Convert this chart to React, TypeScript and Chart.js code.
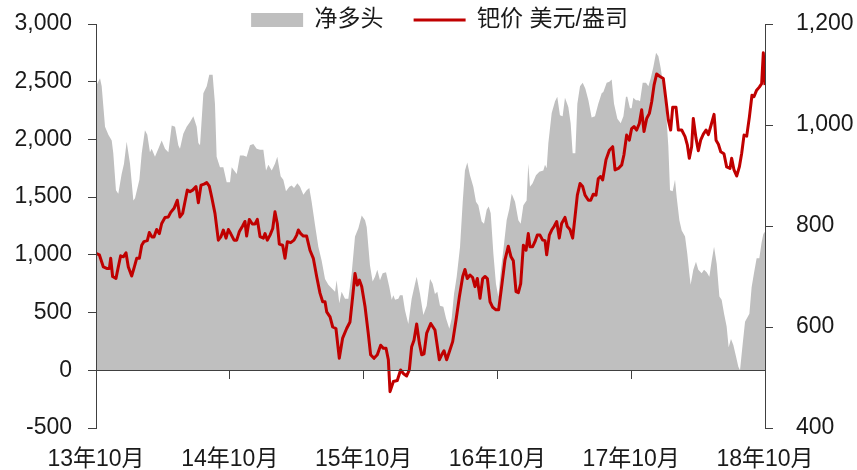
import React, { useEffect, useRef } from 'react';
import { Chart, registerables } from 'chart.js';

Chart.register(...registerables);

// ---- data (x = months since 2013-10) ----
const xTickLabels = ['13年10月', '14年10月', '15年10月', '16年10月', '17年10月', '18年10月'];
const legendLabels = ['净多头', '钯价 美元/盎司'];

const netLongMonths = [
  0.0, 0.36, 0.51, 0.81, 1.11, 1.41, 1.55, 1.79, 2.0, 2.3, 2.51, 2.75, 3.05, 3.35, 3.5, 3.89, 4.1, 4.39, 4.6, 4.84,
  4.99, 5.29, 5.59, 5.89, 6.19, 6.49, 6.79, 7.09, 7.38, 7.53, 7.83, 8.13, 8.43, 8.73, 9.03, 9.18, 9.33, 9.63, 9.93,
  10.16, 10.46, 10.67, 10.82, 11.12, 11.42, 11.72, 12.02, 12.17, 12.62, 12.91, 13.21, 13.51, 13.81, 14.11, 14.41,
  14.71, 15.01, 15.25, 15.46, 15.76, 16.05, 16.26, 16.56, 16.8, 17.04, 17.34, 17.55, 17.76, 18.06, 18.3, 18.6, 18.89,
  19.13, 19.34, 19.64, 19.94, 20.24, 20.54, 20.84, 21.14, 21.44, 21.58, 21.82, 22.03, 22.33, 22.63, 22.93, 23.23,
  23.53, 23.83, 24.13, 24.28, 24.57, 24.81, 25.02, 25.23, 25.47, 25.71, 26.01, 26.31, 26.52, 26.67, 26.82, 27.11,
  27.26, 27.5, 27.71, 28.01, 28.31, 28.61, 28.76, 29.06, 29.36, 29.66, 29.96, 30.19, 30.4, 30.61, 30.85, 31.15,
  31.39, 31.69, 31.9, 32.11, 32.35, 32.65, 32.89, 33.09, 33.3, 33.54, 33.84, 34.08, 34.29, 34.59, 34.8, 35.04, 35.22,
  35.4, 35.64, 35.87, 36.08, 36.29, 36.53, 36.83, 37.07, 37.28, 37.58, 37.88, 38.09, 38.33, 38.62, 38.77, 38.92,
  39.16, 39.46, 39.76, 40.12, 40.27, 40.42, 40.57, 40.87, 41.17, 41.37, 41.61, 41.85, 42.06, 42.36, 42.57, 42.75,
  42.99, 43.17, 43.41, 43.65, 43.89, 44.16, 44.45, 44.75, 45.05, 45.35, 45.5, 45.8, 46.04, 46.25, 46.46, 46.76,
  47.06, 47.3, 47.53, 47.65, 47.89, 48.04, 48.19, 48.43, 48.64, 48.79, 49.03, 49.33, 49.54, 49.75, 49.99, 50.23,
  50.44, 50.64, 50.88, 51.12, 51.33, 51.48, 51.72, 51.93, 52.08, 52.32, 52.53, 52.83, 53.03, 53.21, 53.33, 53.57,
  53.81, 54.02, 54.32, 54.53, 54.77, 55.01, 55.22, 55.43, 55.67, 55.91, 56.11, 56.33, 56.56, 56.74, 56.95, 57.16,
  57.4, 57.61, 57.76, 58.0, 58.21, 58.6, 58.8, 59.01, 59.25, 59.49, 59.7, 59.85, 60.0,
];
const netLongValues = [
  2460, 2530, 2460, 2110, 2040, 1990, 1880, 1560, 1530, 1700, 1790, 1980, 1790, 1470, 1490, 1650, 1880, 2080, 2040, 1890,
  1920, 1850, 1920, 1990, 1920, 1890, 2120, 2110, 1950, 1920, 2050, 2110, 2150, 2200, 2110, 1970, 1950, 2400, 2460,
  2560, 2560, 2310, 1850, 1760, 1760, 1630, 1630, 1760, 1700, 1860, 1860, 1850, 1950, 1960, 1920,
  1910, 1910, 1730, 1780, 1730, 1790, 1850, 1680, 1650, 1550, 1590, 1600, 1580, 1620, 1590, 1520, 1560,
  1580, 1460, 1260, 1070, 950, 790, 740, 710, 680, 780, 580, 680, 620, 620, 840, 1160,
  1230, 1340, 1300, 1240, 910, 770, 810, 870, 780, 840, 850, 720, 610, 650, 610, 620,
  650, 650, 520, 400, 620, 750, 810, 660, 480, 560, 790, 750, 660, 680, 560, 550,
  450, 360, 450, 660, 810, 1070, 1460, 1730, 1800, 1690, 1590, 1460, 1430, 1290, 1270, 1390, 1420,
  1360, 1010, 750, 640, 850, 1040, 1300, 1400, 1530, 1460, 1300, 1270, 1430, 1470, 1790, 1590,
  1620, 1690, 1720, 1730, 1780, 1750, 1970, 2230, 2330, 2370, 2210, 2200, 2360, 2280, 2140, 1880,
  1880, 2310, 2460, 2490, 2440, 2340, 2190, 2200, 2310, 2400, 2410, 2490, 2500, 2520, 2310, 2180,
  2140, 2200, 2370, 2370, 2270, 2270, 2360, 2340, 2340, 2330, 2490, 2490, 2460, 2530, 2630, 2750,
  2720, 2620, 2470, 2250, 1940, 1560, 1550, 1650, 1500, 1300, 1210, 1160, 1010, 840, 740, 870,
  940, 870, 840, 870, 850, 810, 950, 1070, 920, 640, 610, 490, 380, 200, 270, 220,
  120, 30, 0, 230, 420, 490, 720, 840, 970, 970, 1110, 1180, 1200,
];

const priceMonths = [
  0.0, 0.3, 0.66, 0.96, 1.2, 1.32, 1.49, 1.79, 2.0, 2.21, 2.45, 2.69, 2.9, 3.2, 3.44, 3.65, 3.89, 4.1, 4.3, 4.6,
  4.78, 5.02, 5.2, 5.44, 5.68, 5.89, 6.19, 6.49, 6.7, 7.0, 7.29, 7.53, 7.77, 7.98, 8.19, 8.43, 8.67, 8.97, 9.18,
  9.42, 9.69, 9.93, 10.16, 10.37, 10.67, 10.97, 11.21, 11.42, 11.66, 11.87, 12.08, 12.38, 12.62, 12.86, 13.15,
  13.36, 13.51, 13.75, 14.02, 14.26, 14.47, 14.71, 15.01, 15.16, 15.37, 15.61, 15.85, 16.05, 16.26, 16.44, 16.74,
  16.95, 17.16, 17.46, 17.76, 18.0, 18.15, 18.36, 18.6, 18.89, 19.19, 19.49, 19.79, 20.09, 20.33, 20.54, 20.69,
  20.99, 21.23, 21.52, 21.82, 22.12, 22.48, 22.78, 23.02, 23.23, 23.44, 23.62, 23.83, 24.13, 24.42, 24.63, 24.93,
  25.23, 25.53, 25.77, 26.01, 26.22, 26.37, 26.67, 27.02, 27.32, 27.56, 27.86, 28.1, 28.31, 28.52, 28.76, 29.0,
  29.21, 29.42, 29.66, 30.02, 30.4, 30.79, 31.0, 31.21, 31.45, 31.69, 31.99, 32.29, 32.59, 32.89, 33.09, 33.3,
  33.54, 33.78, 33.99, 34.2, 34.44, 34.68, 34.89, 35.1, 35.34, 35.58, 35.87, 36.11, 36.38, 36.68, 36.98, 37.22,
  37.43, 37.67, 37.88, 38.09, 38.33, 38.57, 38.77, 38.92, 39.16, 39.37, 39.58, 39.82, 40.06, 40.27, 40.42, 40.66,
  40.87, 41.08, 41.32, 41.55, 41.76, 42.06, 42.27, 42.51, 42.75, 42.96, 43.17, 43.41, 43.65, 43.86, 44.16, 44.37,
  44.6, 44.84, 45.05, 45.26, 45.44, 45.74, 46.04, 46.34, 46.55, 46.85, 47.15, 47.35, 47.59, 47.83, 48.04, 48.25,
  48.49, 48.73, 48.94, 49.15, 49.39, 49.63, 49.84, 50.05, 50.28, 50.58, 50.88, 51.12, 51.33, 51.54, 51.72, 52.02,
  52.23, 52.53, 52.83, 53.04, 53.21, 53.42, 53.57, 53.81, 54.02, 54.23, 54.47, 54.71, 54.92, 55.13, 55.43, 55.61,
  55.82, 56.03, 56.32, 56.56, 56.86, 57.01, 57.22, 57.46, 57.7, 57.91, 58.12, 58.36, 58.6, 58.83, 59.01, 59.25,
  59.49, 59.7, 59.85, 60.0,
];
const priceValues = [
  746, 743, 719, 716, 716, 736, 700, 696, 719, 741, 739, 747, 719, 701, 719, 736, 736, 762, 769, 771,
  787, 778, 778, 793, 785, 805, 817, 818, 827, 835, 851, 818, 825, 848, 871, 868, 871, 878, 846,
  881, 883, 886, 879, 858, 825, 772, 779, 792, 776, 793, 785, 772, 772, 789, 800,
  809, 780, 813, 804, 804, 813, 779, 776, 785, 772, 782, 795, 828, 805, 764, 762,
  736, 769, 767, 772, 782, 792, 785, 780, 780, 752, 736, 700, 667, 650, 650, 630,
  620, 600, 597, 538, 578, 597, 610, 660, 706, 683, 693, 680, 640, 587, 545, 538,
  545, 564, 558, 558, 535, 472, 492, 494, 515, 508, 503, 515, 561, 574, 606, 568,
  545, 547, 588, 607, 594, 535, 545, 553, 535, 551, 571, 614, 660, 700, 714, 696,
  703, 698, 680, 696, 657, 696, 700, 696, 650, 639, 634, 634, 680, 733, 760, 739,
  731, 670, 668, 686, 762, 752, 785, 759, 759, 769, 782, 782, 772, 771, 743, 782,
  792, 799, 809, 776, 805, 817, 799, 793, 776, 818, 861, 884, 878, 861, 851, 851,
  863, 861, 894, 898, 891, 931, 950, 957, 911, 914, 921, 941, 980, 970, 993, 997,
  990, 1003, 1030, 987, 1013, 1023, 1046, 1079, 1101, 1096, 1092, 1049, 1010, 990, 1035, 1035,
  990, 990, 977, 960, 934, 957, 1013, 974, 949, 970, 982, 990, 981, 997, 1021, 970,
  962, 947, 943, 917, 914, 934, 911, 899, 917, 944, 980, 978, 1016, 1059, 1056, 1069,
  1075, 1082, 1143, 1079,
];

// ---- styling ----
const FONT = '"Liberation Sans", "Noto Sans CJK SC", sans-serif';
const TEXT = '#1a1a1a';
const AXIS = '#404040';
const GRAY = '#BFBFBF';
const RED = '#C00000';

const legendFit = {
  id: 'legendFit',
  beforeInit(chart: any) {
    const lg = chart.legend;
    if (!lg) return;
    const orig = lg.fit;
    lg.fit = function () {
      orig.call(this);
      this.height = 24;
    };
  },
};

const legendPlacement = {
  id: 'legendPlacement',
  afterLayout(chart: any) {
    const lg = chart.legend;
    if (!lg) return;
    lg.top = -21.5;
    lg.bottom = 44;
    lg.left += 11;
    lg.right += 11;
  },
};

const fmt = (v: number) => Number(v).toLocaleString('en-US');

const fixY = (width: number) => (s: any) => {
  s.width = width;
  s.paddingTop = 14;
  s.paddingBottom = 14;
};

export default function App() {
  const ref = useRef<HTMLCanvasElement>(null);

  useEffect(() => {
    if (!ref.current) return;
    const chart = new Chart(ref.current, {
      type: 'line',
      data: {
        datasets: [
          {
            label: legendLabels[0],
            data: netLongMonths.map((m, i) => ({ x: m, y: netLongValues[i] })),
            xAxisID: 'x',
            yAxisID: 'y',
            fill: 'origin',
            backgroundColor: GRAY,
            borderColor: GRAY,
            borderWidth: 0,
            pointRadius: 0,
            tension: 0,
            order: 2,
          },
          {
            label: legendLabels[1],
            data: priceMonths.map((m, i) => ({ x: m, y: priceValues[i] })),
            xAxisID: 'x',
            yAxisID: 'y1',
            fill: false,
            backgroundColor: RED,
            borderColor: RED,
            borderWidth: 3,
            borderJoinStyle: 'round',
            pointRadius: 0,
            tension: 0,
            order: 1,
          },
        ] as any,
      },
      options: {
        responsive: false,
        animation: false,
        devicePixelRatio: 1,
        layout: { padding: 0 },
        plugins: {
          legend: {
            display: true,
            position: 'top',
            align: 'center',
            labels: {
              usePointStyle: true,
              pointStyleWidth: 52,
              boxHeight: 14,
              padding: 30,
              color: TEXT,
              font: { family: FONT, size: 23 },
              generateLabels: (c: any) =>
                c.data.datasets.map((ds: any, i: number) => ({
                  text: ds.label,
                  datasetIndex: i,
                  fillStyle: i === 0 ? GRAY : RED,
                  strokeStyle: i === 0 ? GRAY : RED,
                  lineWidth: i === 0 ? 0 : 3,
                  pointStyle: i === 0 ? 'rect' : 'line',
                  hidden: false,
                  fontColor: TEXT,
                })),
            },
          },
          tooltip: { enabled: false },
        },
        scales: {
          x: {
            type: 'linear',
            position: 'bottom',
            min: 0,
            max: 60,
            afterFit: (s: any) => {
              s.height = 42;
            },
            grid: { display: false, drawTicks: false },
            border: { display: false },
            ticks: {
              stepSize: 12,
              autoSkip: false,
              maxRotation: 0,
              padding: 18,
              color: TEXT,
              font: { family: FONT, size: 23 },
              callback: (v: any) => xTickLabels[Math.round(Number(v) / 12)] ?? '',
            },
          },
          xZero: {
            type: 'linear',
            axis: 'x',
            position: { y: 0 } as any,
            min: 0,
            max: 60,
            grid: { drawOnChartArea: false, drawTicks: true, tickLength: 8, color: AXIS, lineWidth: 1 },
            border: { display: true, color: AXIS, width: 1, z: 1 },
            ticks: { display: false, stepSize: 12 },
          },
          y: {
            type: 'linear',
            position: 'left',
            min: -500,
            max: 3000,
            afterFit: fixY(96),
            grid: { drawOnChartArea: false, drawTicks: true, tickLength: 8, color: AXIS, lineWidth: 1 },
            border: { display: true, color: AXIS, width: 1, z: 1 },
            ticks: {
              stepSize: 500,
              padding: 16,
              color: TEXT,
              font: { family: FONT, size: 23 },
              callback: (v: any) => fmt(v),
            },
          },
          y1: {
            type: 'linear',
            position: 'right',
            min: 400,
            max: 1200,
            afterFit: fixY(92),
            grid: { drawOnChartArea: false, drawTicks: true, tickLength: 8, color: AXIS, lineWidth: 1 },
            border: { display: true, color: AXIS, width: 1, z: 1 },
            ticks: {
              stepSize: 200,
              padding: 23,
              color: TEXT,
              font: { family: FONT, size: 23 },
              callback: (v: any) => fmt(v),
            },
          },
        } as any,
      },
      plugins: [legendFit, legendPlacement],
    });
    return () => chart.destroy();
  }, []);

  return (
    <div style={{ position: 'fixed', left: 0, top: 0, width: 857, height: 470, background: '#ffffff' }}>
      <canvas ref={ref} width={857} height={470} style={{ display: 'block', width: 857, height: 470 }} />
    </div>
  );
}
